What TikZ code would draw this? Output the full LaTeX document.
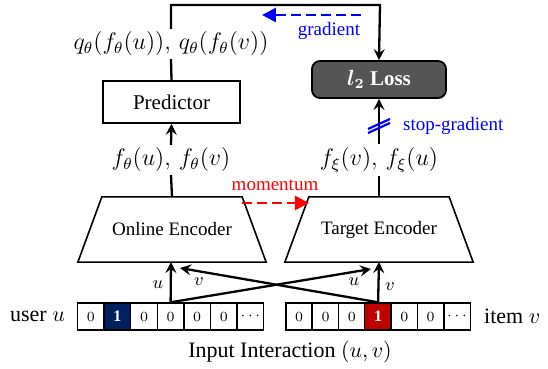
\documentclass[tikz,border=0pt]{standalone}
\usepackage{fontspec}
\setmainfont{Liberation Serif}
\usetikzlibrary{arrows.meta,calc}
\definecolor{navycell}{HTML}{002060}
\definecolor{redcell}{HTML}{C00000}
\definecolor{lossgray}{HTML}{555555}
\definecolor{gradblue}{HTML}{0000FF}
\definecolor{momred}{HTML}{FF0000}
\begin{document}
\begin{tikzpicture}[x=0.5pt,y=-0.5pt,
  line width=1.15pt,
  arr/.style={-{Stealth[length=5.5pt,width=5.5pt,inset=2pt]}},
  lbl/.style={font=\fontsize{9.5}{11}\selectfont, inner sep=1pt},
  big/.style={font=\fontsize{11}{13}\selectfont, inner sep=1pt},
  mlbl/.style={font=\fontsize{11.5}{13}\selectfont, inner sep=1pt},
  small/.style={font=\fontsize{9}{10}\selectfont, inner sep=1pt},
  box/.style={draw, line width=0.8pt, minimum width=68.5pt, minimum height=21pt,
    font=\fontsize{10.5}{12}\selectfont},
  lossbox/.style={draw, line width=0.9pt, fill=lossgray, text=white, rounded corners=4pt,
    minimum width=67pt, minimum height=18.5pt, font=\fontsize{10.5}{12}\selectfont\bfseries\boldmath},
  enc/.style={minimum width=69pt, minimum height=31.5pt, inner sep=0pt,
    font=\fontsize{9.5}{11}\selectfont},
  trap/.style={line width=0.8pt},
  cell/.style={draw, line width=0.7pt, minimum width=13.3pt, minimum height=13.5pt,
    inner sep=0pt, font=\fontsize{7.5}{8}\selectfont},
  hot/.style={cell, text=white, font=\fontsize{8}{8}\selectfont\bfseries},
  dashblue/.style={gradblue, line width=1.4pt, dash pattern=on 5pt off 2.5pt,
    -{Triangle[length=7pt,width=7pt]}},
  dashred/.style={momred, line width=1.4pt, dash pattern=on 5pt off 2.5pt,
    -{Triangle[length=7pt,width=7pt]}},
]
\useasboundingbox (0,0) rectangle (548,369);

% online branch
\node[mlbl] (qlab) at (171,44) {$q_\theta(f_\theta(u)),\, q_\theta(f_\theta(v))$};
\node[box] (pred) at (171.5,102) {Predictor};
\node[mlbl] (flab) at (171,160) {$f_\theta(u),\, f_\theta(v)$};
\node[enc] (onl) at (172,229.5) {Online Encoder};
\draw[trap] (onl.north west) -- (onl.north east) -- ($(onl.south east)+(24,0)$)
  -- ($(onl.south west)+(-24,0)$) -- cycle;

% target branch
\node[lossbox] (loss) at (379,79.5) {$l_2$ Loss};
\node[mlbl] (xlab) at (379,160) {$f_\xi(v),\, f_\xi(u)$};
\node[enc] (tgt) at (379,229.5) {Target Encoder};
\draw[trap] (tgt.north west) -- (tgt.north east) -- ($(tgt.south east)+(24,0)$)
  -- ($(tgt.south west)+(-24,0)$) -- cycle;

% one-hot input vectors
\foreach \v [count=\k from 0] in {0,1,0,0,0,0,\cdots}{
  \ifnum\k=1
    \node[hot, fill=navycell] (u\k) at ({90.8+26.6*\k},316.5) {1};
  \else
    \node[cell] (u\k) at ({90.8+26.6*\k},316.5) {$\v$};
  \fi
}
\foreach \v [count=\k from 0] in {0,0,0,1,0,0,\cdots}{
  \ifnum\k=3
    \node[hot, fill=redcell] (i\k) at ({299.2+26.3*\k},316.5) {1};
  \else
    \node[cell] (i\k) at ({299.2+26.3*\k},316.5) {$\v$};
  \fi
}
\node[big, anchor=east] (ulab) at (68,316) {user $u$};
\node[big, anchor=west] (ilab) at (481,316) {item $v$};
\node[big] (inlab) at (290,352) {Input Interaction $(u,v)$};

% encoder inputs
\coordinate (onlin) at (171,262);
\coordinate (tgtin) at (379,262);
\coordinate (onlx) at (180,268);
\coordinate (tgtx) at (371,269);
\draw[arr] (u3.north) -- (onlin);
\draw[arr] (i3.north) -- (tgtin);
\draw[arr] (u3.north) -- (tgtx);
\draw[arr] (i3.north) -- (onlx);
\node[small] (ua) at (158,285) {$u$};
\node[small] (va) at (199,282) {$v$};
\node[small] (ub) at (354,282) {$u$};
\node[small] (vb) at (390,287) {$v$};

% online path
\draw (onl.north) -- (flab.south);
\draw[arr] (flab.north) -- (pred.south);
\draw (pred.north) -- (qlab.south);
\coordinate (tl) at (171,5);
\coordinate (tr) at (380,5);
\draw[arr] (qlab.north) -- (tl) -- (tr) -- (loss.north);

% target path
\draw (tgt.north) -- (xlab.south);
\draw[arr] (xlab.north) -- (loss.south);
\coordinate (sg) at (379,126);
\draw[gradblue, line width=1.1pt] ($(sg)+(-11,7)$) -- ($(sg)+(11,-3)$)
  ($(sg)+(-11,3)$) -- ($(sg)+(11,-7)$);
\node[lbl, text=gradblue, anchor=west] (sglab) at (400,126) {stop-gradient};

% momentum update
\coordinate (mA) at (242,203);
\coordinate (mB) at (309,203);
\draw[dashred] (mA) -- (mB);
\node[lbl, text=momred] (mlab) at (275,185) {momentum};

% gradient flow
\coordinate (gA) at (361,15);
\coordinate (gB) at (262,15);
\draw[dashblue] (gA) -- (gB);
\node[lbl, text=gradblue] (glab) at (329,31) {gradient};
\end{tikzpicture}
\end{document}
